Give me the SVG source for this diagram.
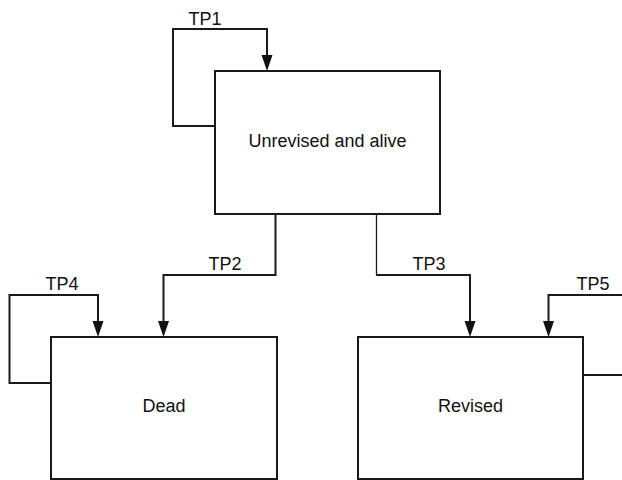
<svg xmlns="http://www.w3.org/2000/svg" width="622" height="480" viewBox="0 0 622 480">
<defs>
<style>
.box{fill:#fff;stroke:#1a1a1a;stroke-width:2}
.edge{fill:none;stroke:#1a1a1a;stroke-width:2}
.thin{stroke-width:1.3}
.head{fill:#111}
text{font-family:"Liberation Sans",Arial,sans-serif;font-size:18px;fill:#111;text-anchor:middle}
</style>
</defs>
<rect width="622" height="480" fill="#fff"/>
<g id="connectors">
<path class="edge" d="M215,126 H173 V29 H267 V56"/>
<polygon class="head" points="261.5,55 272.5,55 267,71"/>
<path class="edge" d="M275.5,214 V275 H163.5 V322"/>
<polygon class="head" points="158,321 169,321 163.5,337"/>
<path class="edge thin" d="M376.5,214 V275"/>
<path class="edge" d="M376,275 H470 V322"/>
<polygon class="head" points="464.5,321 475.5,321 470,337"/>
<path class="edge" d="M51,383 H9.5 V295 H98 V322"/>
<polygon class="head" points="92.5,321 103.5,321 98,337"/>
<path class="edge" d="M583,375 H622 M622,295 H548.5 V322"/>
<polygon class="head" points="543,321 554,321 548.5,337"/>
<text x="205" y="25">TP1</text>
<text x="225" y="270">TP2</text>
<text x="429" y="270">TP3</text>
<text x="62" y="290">TP4</text>
<text x="593" y="290">TP5</text>
</g>
<g id="unrevised">
<rect class="box" x="215" y="71" width="225" height="143"/>
<text x="327.5" y="147">Unrevised and alive</text>
</g>
<g id="dead">
<rect class="box" x="51" y="337" width="226" height="142"/>
<text x="164" y="412">Dead</text>
</g>
<g id="revised">
<rect class="box" x="358" y="337" width="225" height="142"/>
<text x="470.5" y="412">Revised</text>
</g>
</svg>
